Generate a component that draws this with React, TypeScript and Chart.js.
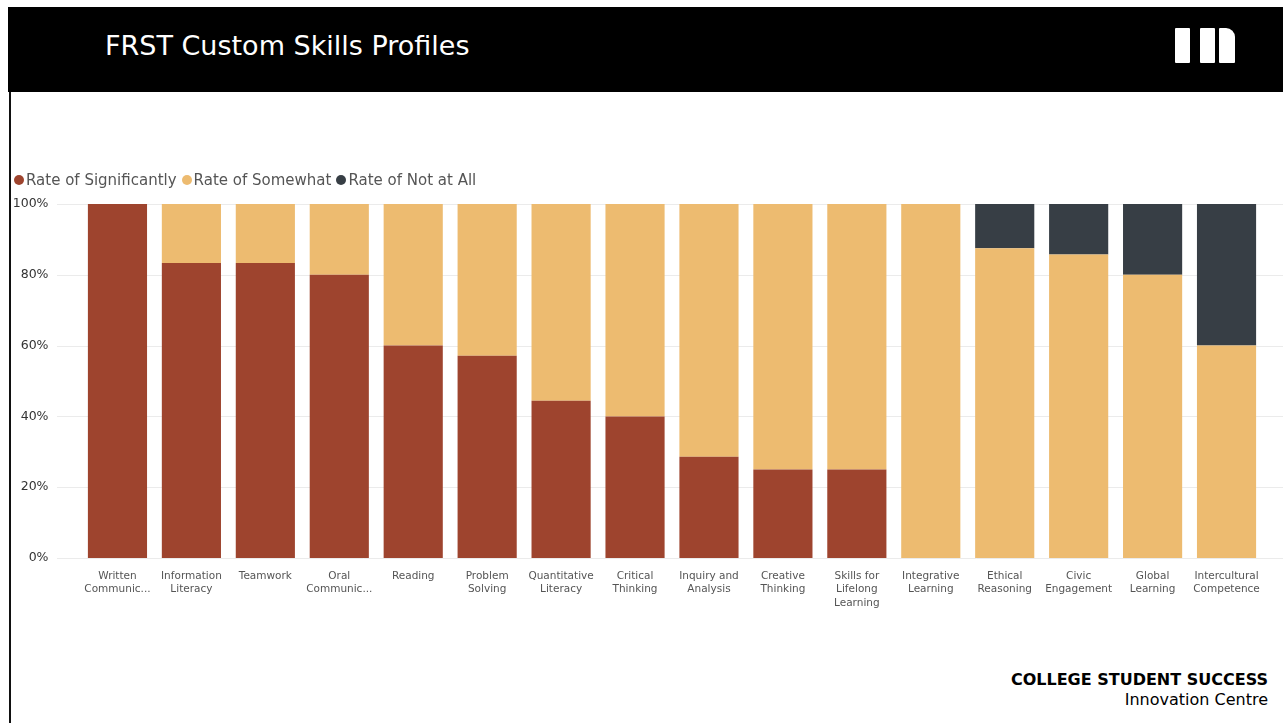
import React, { useEffect, useRef } from "react";
import { Chart, registerables } from "chart.js";
Chart.register(...registerables);

const categories: string[][] = [
  ["Written", "Communic..."],
  ["Information", "Literacy"],
  ["Teamwork"],
  ["Oral", "Communic..."],
  ["Reading"],
  ["Problem", "Solving"],
  ["Quantitative", "Literacy"],
  ["Critical", "Thinking"],
  ["Inquiry and", "Analysis"],
  ["Creative", "Thinking"],
  ["Skills for", "Lifelong", "Learning"],
  ["Integrative", "Learning"],
  ["Ethical", "Reasoning"],
  ["Civic", "Engagement"],
  ["Global", "Learning"],
  ["Intercultural", "Competence"],
];
const significantly = [100, 83.3, 83.3, 80, 60, 57.1, 44.4, 40, 28.6, 25, 25, 0, 0, 0, 0, 0];
const somewhat = [0, 16.7, 16.7, 20, 40, 42.9, 55.6, 60, 71.4, 75, 75, 100, 87.5, 85.7, 80, 60];
const notAtAll = [0, 0, 0, 0, 0, 0, 0, 0, 0, 0, 0, 0, 12.5, 14.3, 20, 40];
const seriesNames = ["Rate of Significantly", "Rate of Somewhat", "Rate of Not at All"];
const seriesColors = ["#9e442e", "#edbb70", "#373e45"];
const yTickStep = 20;

const FONT = "'DejaVu Sans', Verdana, sans-serif";

const gridPlugin = {
  id: "wideGrid",
  beforeDatasetsDraw(chart: any) {
    const ctx = chart.ctx;
    const y = chart.scales.y;
    ctx.save();
    ctx.strokeStyle = "#ebebeb";
    ctx.lineWidth = 1;
    y.ticks.forEach((t: any) => {
      const py = Math.round(y.getPixelForValue(t.value)) + 0.5;
      ctx.beginPath();
      ctx.moveTo(57, py);
      ctx.lineTo(chart.width, py);
      ctx.stroke();
    });
    ctx.restore();
  },
};

function BarChart() {
  const ref = useRef<HTMLCanvasElement | null>(null);
  useEffect(() => {
    if (!ref.current) return;
    const chart = new Chart(ref.current, {
      type: "bar",
      data: {
        labels: categories,
        datasets: [
          { label: seriesNames[0], data: significantly, backgroundColor: seriesColors[0] },
          { label: seriesNames[1], data: somewhat, backgroundColor: seriesColors[1] },
          { label: seriesNames[2], data: notAtAll, backgroundColor: seriesColors[2] },
        ],
      },
      options: {
        responsive: false,
        animation: false,
        devicePixelRatio: 1,
        layout: { padding: { top: 112, right: 19.5, left: 0, bottom: 0 } },
        datasets: { bar: { categoryPercentage: 1, barPercentage: 0.8, borderWidth: 0 } },
        plugins: { legend: { display: false }, tooltip: { enabled: false } },
        scales: {
          x: {
            stacked: true,
            grid: { display: false, drawTicks: false },
            border: { display: false },
            afterFit: (s: any) => { s.height = 94; },
            ticks: {
              autoSkip: false,
              maxRotation: 0,
              minRotation: 0,
              padding: 12,
              color: "#555",
              font: { family: FONT, size: 10.5, lineHeight: 1.25 },
            },
          },
          y: {
            stacked: true,
            min: 0,
            max: 100,
            grid: { display: false, drawTicks: false },
            border: { display: false },
            afterFit: (s: any) => { s.width = 80.5; },
            ticks: {
              stepSize: yTickStep,
              padding: 32,
              color: "#333",
              font: { family: FONT, size: 12.5 },
              callback: (v: any) => v + "%",
            },
          },
        },
      },
      plugins: [gridPlugin],
    });
    return () => chart.destroy();
  }, []);
  return (
    <canvas
      ref={ref}
      width={1283}
      height={560}
      style={{ position: "absolute", left: 0, top: 92, width: 1283, height: 560 }}
    />
  );
}

export default function App() {
  return (
    <div style={{ position: "fixed", left: 0, top: 0, width: 1283, height: 723, background: "#fff", overflow: "hidden", fontFamily: FONT }}>
      <div style={{ position: "absolute", left: 8, top: 7, width: 1275, height: 85, background: "#000" }}>
        <div style={{ position: "absolute", left: 97, top: 22, color: "#fff", fontSize: 27, lineHeight: "34px", whiteSpace: "nowrap" }}>
          FRST Custom Skills Profiles
        </div>
        <div style={{ position: "absolute", left: 1167, top: 21, width: 15, height: 35, background: "#fff", borderRadius: 1 }} />
        <div style={{ position: "absolute", left: 1192, top: 21, width: 15, height: 35, background: "#fff", borderRadius: 1 }} />
        <div style={{ position: "absolute", left: 1211, top: 21, width: 16, height: 35, background: "#fff", borderRadius: "1px 9px 1px 1px" }} />
      </div>
      <BarChart />
      <div style={{ position: "absolute", left: 9, top: 92, width: 2, height: 631, background: "#111" }} />
      <div style={{ position: "absolute", left: 14, top: 170, display: "flex", alignItems: "center", fontSize: 15, color: "#555", whiteSpace: "nowrap", lineHeight: "20px" }}>
        {seriesNames.map((n, i) => (
          <div key={n} style={{ display: "flex", alignItems: "center", marginRight: 5 }}>
            <span style={{ width: 10, height: 10, borderRadius: 5, background: seriesColors[i], display: "inline-block", marginRight: 2 }} />
            <span>{n}</span>
          </div>
        ))}
      </div>
      <div style={{ position: "absolute", right: 15, top: 670, textAlign: "right", color: "#000", fontSize: 16, lineHeight: "20px", whiteSpace: "nowrap" }}>
        <div style={{ fontWeight: "bold" }}>COLLEGE STUDENT SUCCESS</div>
        <div>Innovation Centre</div>
      </div>
    </div>
  );
}
